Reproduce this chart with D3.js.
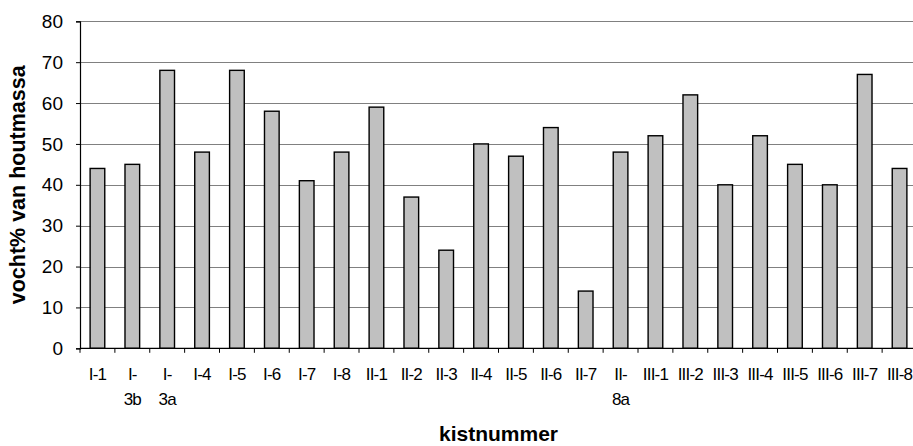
<!DOCTYPE html>
<html>
<head>
<meta charset="utf-8">
<script src="https://cdn.jsdelivr.net/npm/d3@7"></script>
<style>
  html, body { margin: 0; padding: 0; background: #fff; overflow: hidden; }
  svg { display: block; font-family: "Liberation Sans", Arial, sans-serif; }
</style>
</head>
<body>
<svg id="chart" width="913" height="446"></svg>
<script>
// Moisture content per chest
const categories = ["I-1", "I-3b", "I-3a", "I-4", "I-5", "I-6", "I-7", "I-8",
  "II-1", "II-2", "II-3", "II-4", "II-5", "II-6", "II-7", "II-8a",
  "III-1", "III-2", "III-3", "III-4", "III-5", "III-6", "III-7", "III-8"];
const tickLabels = ["I-1", "I-\n3b", "I-\n3a", "I-4", "I-5", "I-6", "I-7", "I-8",
  "II-1", "II-2", "II-3", "II-4", "II-5", "II-6", "II-7", "II-\n8a",
  "III-1", "III-2", "III-3", "III-4", "III-5", "III-6", "III-7", "III-8"];
const values = [44, 45, 68, 48, 68, 58, 41, 48,
  59, 37, 24, 50, 47, 54, 14, 48,
  52, 62, 40, 52, 45, 40, 67, 44];
const yTicks = [0, 10, 20, 30, 40, 50, 60, 70, 80];
const yTitle = "vocht% van houtmassa";
const xTitle = "kistnummer";

const svg = d3.select("#chart");
const plotLeft = 80, plotRight = 917, plotTop = 21.3, plotBottom = 348.3;

const y = d3.scaleLinear().domain([0, 80]).range([plotBottom, plotTop]);
const xCat = d3.scaleBand().domain(categories).range([plotLeft, plotRight]).padding(0);
const xBar = d3.scaleBand().domain(categories).range([plotLeft, plotRight])
  .paddingInner(0.58).paddingOuter(0.29);

// horizontal gridlines
svg.append("g")
  .selectAll("line")
  .data(yTicks.filter(d => d > 0))
  .join("line")
  .attr("x1", plotLeft).attr("x2", plotRight)
  .attr("y1", d => Math.round(y(d)) + 0.5).attr("y2", d => Math.round(y(d)) + 0.5)
  .attr("stroke", "#808080").attr("stroke-width", 1);

// bars
svg.append("g")
  .selectAll("rect")
  .data(categories)
  .join("rect")
  .attr("x", d => xBar(d))
  .attr("width", xBar.bandwidth())
  .attr("y", (d, i) => y(values[i]))
  .attr("height", (d, i) => y(0) - y(values[i]))
  .attr("fill", "#c0c0c0")
  .attr("stroke", "#000")
  .attr("stroke-width", 1.4);

// y axis
const yAxis = svg.append("g")
  .attr("transform", `translate(${plotLeft},0)`)
  .call(d3.axisLeft(y).tickValues(yTicks).tickSize(4).tickPadding(13));
yAxis.select(".domain").attr("stroke", "#000").attr("stroke-width", 1.2);
yAxis.selectAll(".tick line").attr("stroke", "#000");
yAxis.selectAll(".tick text")
  .attr("font-size", 19).attr("fill", "#000")
  .attr("font-family", "Liberation Sans, Arial, sans-serif");

// x axis line with ticks on the category boundaries
const xAxis = svg.append("g").attr("transform", `translate(0,${plotBottom})`);
xAxis.append("line")
  .attr("x1", plotLeft).attr("x2", plotRight).attr("y1", 0).attr("y2", 0)
  .attr("stroke", "#000").attr("stroke-width", 1.2);
const boundaries = categories.map(c => xCat(c)).concat([xCat.range()[1]]);
xAxis.selectAll("line.tk")
  .data(boundaries)
  .join("line")
  .attr("class", "tk")
  .attr("x1", d => d).attr("x2", d => d)
  .attr("y1", 0).attr("y2", 4.5)
  .attr("stroke", "#000");

// category labels, some on two lines
const lbl = svg.append("g")
  .selectAll("text")
  .data(categories)
  .join("text")
  .attr("x", d => xCat(d) + xCat.bandwidth() / 2)
  .attr("y", 380)
  .attr("text-anchor", "middle")
  .attr("font-size", 17)
  .attr("letter-spacing", "-0.8px")
  .attr("fill", "#000");
lbl.each(function (d, i) {
  const lines = tickLabels[i].split("\n");
  d3.select(this).selectAll("tspan")
    .data(lines)
    .join("tspan")
    .attr("x", xCat(d) + xCat.bandwidth() / 2)
    .attr("dy", (l, j) => j === 0 ? 0 : 25)
    .text(l => l);
});

// axis titles
svg.append("text")
  .attr("transform", `translate(25,${(plotTop + plotBottom) / 2}) rotate(-90)`)
  .attr("text-anchor", "middle")
  .attr("font-size", 21.5).attr("font-weight", "bold").attr("fill", "#000")
  .text(yTitle);

svg.append("text")
  .attr("x", (plotLeft + plotRight) / 2).attr("y", 441)
  .attr("text-anchor", "middle")
  .attr("font-size", 21).attr("font-weight", "bold").attr("fill", "#000")
  .text(xTitle);
</script>
</body>
</html>
